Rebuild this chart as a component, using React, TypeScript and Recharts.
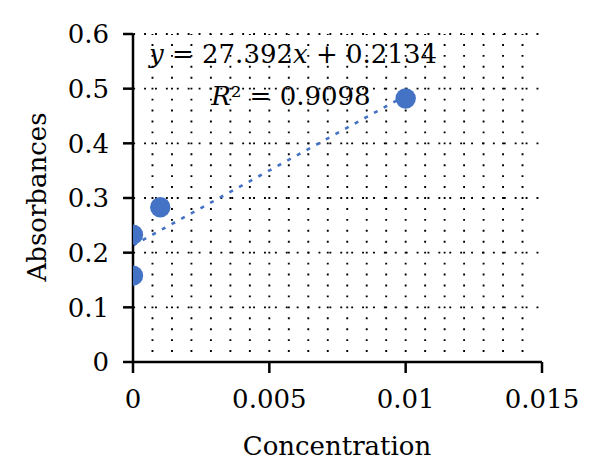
import React from "react";
import {
  ScatterChart,
  Scatter,
  XAxis,
  YAxis,
  CartesianGrid,
  ReferenceLine,
} from "recharts";

// measured samples
const concentration = [0, 0, 0.001, 0.01];
const absorbance = [0.158, 0.233, 0.283, 0.482];

// linear fit reported on the chart
const slope = 27.392;
const intercept = 0.2134;
const rSquared = 0.9098;
const fitRange = [0, 0.01];

const xTicks = [0, 0.005, 0.01, 0.015];
const yTicks = [0, 0.1, 0.2, 0.3, 0.4, 0.5, 0.6];
const yMinorTicks = [
  0.02, 0.04, 0.06, 0.08, 0.12, 0.14, 0.16, 0.18, 0.22, 0.24, 0.26, 0.28,
  0.32, 0.34, 0.36, 0.38, 0.42, 0.44, 0.46, 0.48, 0.52, 0.54, 0.56, 0.58,
];

const W = 600;
const H = 476;
const MARGIN = { top: 34, right: 58, bottom: 0, left: 0 };
const Y_AXIS_W = 133;
const X_AXIS_H = 114;
const PLOT_H = H - MARGIN.top - X_AXIS_H;

const FONT = "DejaVu Serif";
const BLUE = "#4472C4";

const points = concentration.map((x, i) => ({ x, y: absorbance[i] }));

// vertical minor grid every 1/7 of a major x step
const xGridValues = Array.from({ length: 20 }, (_, i) => ((i + 1) * 0.005) / 7);
const yGridValues = yTicks.slice(1);

// dotted pattern: one dot per 0.02 on the y scale
const dotStep = PLOT_H / 30;
const DOT = 1.9;

const Dot = (props: any) => (
  <circle cx={props.cx} cy={props.cy} r={10.2} fill={BLUE} />
);

export default function App() {
  const fmt = (v: number) => String(v);
  return (
    <div style={{ position: "absolute", left: 0, top: 0, background: "#fff" }}>
      <ScatterChart width={W} height={H} margin={MARGIN} style={{ fontFamily: FONT }}>
        <CartesianGrid
          vertical={false}
          horizontalValues={yGridValues}
          stroke="#000"
          strokeWidth={DOT}
          strokeDasharray={`${DOT} 9`}
          strokeDashoffset={-0.2}
        />
        {xGridValues.map((v) => (
          <ReferenceLine
            key={v}
            x={v}
            stroke="#000"
            strokeWidth={DOT}
            strokeDasharray={`${DOT} ${dotStep - DOT}`}
            strokeDashoffset={DOT / 2}
          />
        ))}
        <XAxis
          type="number"
          dataKey="x"
          domain={[0, 0.015]}
          ticks={xTicks}
          tickFormatter={fmt}
          height={X_AXIS_H}
          tickSize={11}
          tickMargin={17}
          axisLine={{ stroke: "#000", strokeWidth: 2.5 }}
          tickLine={{ stroke: "#000", strokeWidth: 2.5 }}
          tick={{ fill: "#000", fontSize: 26, fontFamily: FONT }}
          allowDataOverflow
        />
        <YAxis
          type="number"
          dataKey="y"
          domain={[0, 0.6]}
          ticks={yTicks}
          tickFormatter={fmt}
          width={Y_AXIS_W}
          tickSize={10}
          tickMargin={14}
          axisLine={{ stroke: "#000", strokeWidth: 2.5 }}
          tickLine={{ stroke: "#000", strokeWidth: 2.5 }}
          tick={{ fill: "#000", fontSize: 26, fontFamily: FONT }}
          allowDataOverflow
        />
        <YAxis
          yAxisId="minor"
          type="number"
          domain={[0, 0.6]}
          ticks={yMinorTicks}
          mirror
          width={0}
          tickSize={3}
          axisLine={false}
          tick={false}
          tickLine={{ stroke: "#000", strokeWidth: 2 }}
          allowDataOverflow
        />
        <ReferenceLine
          segment={[
            { x: fitRange[0], y: slope * fitRange[0] + intercept },
            { x: fitRange[1], y: slope * fitRange[1] + intercept },
          ]}
          stroke={BLUE}
          strokeWidth={2.6}
          strokeDasharray="4 7"
          ifOverflow="visible"
        />
        <Scatter data={points} fill={BLUE} shape={Dot} isAnimationActive={false} />
        <text x={293} y={63} textAnchor="middle" fontSize={26} fontFamily={FONT} fill="#000">
          <tspan fontStyle="italic">y</tspan>
          {` = ${slope}`}
          <tspan fontStyle="italic">x</tspan>
          {` + ${intercept}`}
        </text>
        <text x={291} y={105} textAnchor="middle" fontSize={26} fontFamily={FONT} fill="#000">
          <tspan fontStyle="italic">R</tspan>
          {`² = ${rSquared}`}
        </text>
        <text x={337} y={455} textAnchor="middle" fontSize={26} fontFamily={FONT} fill="#000">
          Concentration
        </text>
        <text
          x={46}
          y={197}
          textAnchor="middle"
          fontSize={26}
          fontFamily={FONT}
          fill="#000"
          transform="rotate(-90, 46, 197)"
        >
          Absorbances
        </text>
      </ScatterChart>
    </div>
  );
}
